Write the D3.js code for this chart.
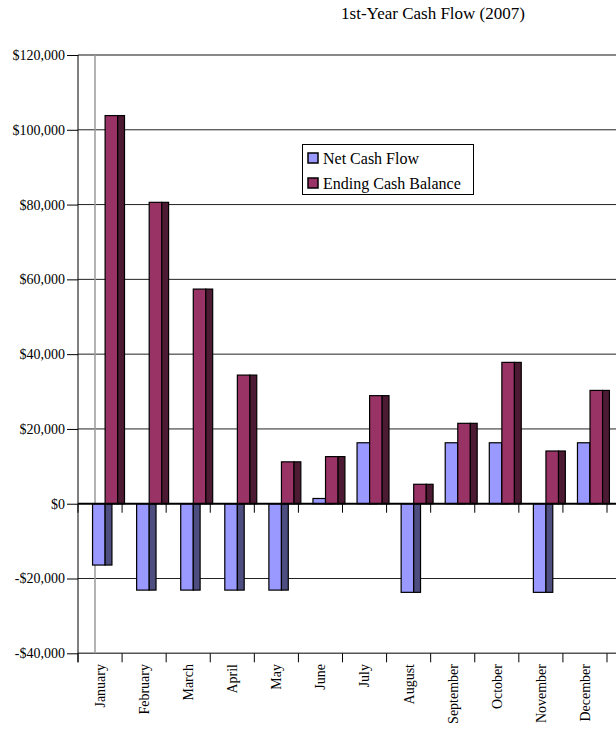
<!DOCTYPE html>
<html>
<head>
<meta charset="utf-8">
<script src="https://cdn.jsdelivr.net/npm/d3@7"></script>
<style>
html,body{margin:0;padding:0;background:#fff;}
svg{display:block;}
svg text{font-family:"Liberation Serif","Times New Roman",Times,serif !important;fill:#000;}
</style>
</head>
<body>
<svg id="chart" width="616" height="729"></svg>
<script>
const title = "1st-Year Cash Flow (2007)";
const months = ["January","February","March","April","May","June","July","August","September","October","November","December"];
const seriesNames = ["Net Cash Flow","Ending Cash Balance"];
const netCashFlow = [-16400,-23100,-23100,-23100,-23100,1400,16300,-23700,16300,16300,-23700,16300];
const endingCashBalance = [103800,80600,57400,34400,11200,12600,28900,5200,21500,37800,14100,30300];
const yTicks = [-40000,-20000,0,20000,40000,60000,80000,100000,120000];
const frontColors = ["#9999FF","#993366"];
const sideColors = ["#4D4D80","#4D1A33"];

const FONT = "'Liberation Serif','Times New Roman',Times,serif";
const svg = d3.select("#chart");
const W = 616;
const x = d3.scaleBand().domain(months).range([78, 607]).paddingInner(0).paddingOuter(0);
const y = d3.scaleLinear().domain([-40000,120000]).range([653.3, 55]);
const bw = x.bandwidth();
const depthOffset = bw * 0.33;
const frontW = bw * 0.285;
const sideW = bw * 0.155;
const xs = d3.scaleBand().domain(seriesNames).range([depthOffset, depthOffset + 2*frontW]);

// title
svg.append("text").attr("x", 433).attr("y", 19).attr("text-anchor","middle")
  .attr("font-family", FONT).style("font-size","17px").text(title);

// gridlines
const g = svg.append("g");
yTicks.forEach(t => {
  if (t === 0) return;
  const top = t === 120000, bottom = t === -40000;
  g.append("line").attr("x1", 78).attr("x2", W)
    .attr("y1", y(t)).attr("y2", y(t))
    .attr("stroke", top ? "#888" : (bottom ? "#555" : "#222"))
    .attr("stroke-width", top ? 2 : (bottom ? 1.5 : 1));
});

// back wall edge
g.append("line").attr("x1", 95).attr("x2", 95).attr("y1", y(120000)).attr("y2", y(-40000))
  .attr("stroke", "#9a9a9a").attr("stroke-width", 1.5);

// y axis
const yAxis = d3.axisLeft(y).tickValues(yTicks).tickSize(11).tickPadding(2)
  .tickFormat(d => (d < 0 ? "-$" : "$") + d3.format(",")(Math.abs(d)));
const ya = svg.append("g").attr("transform","translate(78,0)").call(yAxis)
  .attr("font-family", FONT).attr("font-size", 14);
ya.select(".domain").attr("stroke","#000").attr("d", `M0,${y(120000)}V${y(-40000)+9}`);
ya.selectAll(".tick line").attr("stroke","#000");
ya.selectAll(".tick text").attr("fill","#000");

// category ticks (bottom and at zero)
const bounds = d3.range(months.length + 1).map(i => 78 + i*bw);
[y(-40000), y(0)].forEach(yy => {
  svg.append("g").selectAll("line").data(bounds).join("line")
    .attr("x1", d => d).attr("x2", d => d).attr("y1", yy).attr("y2", yy + 9)
    .attr("stroke", "#000").attr("stroke-width", 1);
});

// bars
const data = months.map((m,i) => ({m, vals:[netCashFlow[i], endingCashBalance[i]]}));
const bars = svg.append("g");
seriesNames.forEach((s, si) => {
  const grp = bars.append("g");
  data.forEach(d => {
    const v = d.vals[si];
    const x0 = x(d.m) + xs(s);
    const yTop = y(Math.max(0, v)), yBot = y(Math.min(0, v));
    grp.append("rect").attr("x", x0).attr("y", yTop).attr("width", xs.bandwidth()).attr("height", yBot - yTop)
      .attr("fill", frontColors[si]).attr("stroke","#000").attr("stroke-width",1.2);
    grp.append("rect").attr("x", x0 + xs.bandwidth()).attr("y", yTop).attr("width", sideW).attr("height", yBot - yTop)
      .attr("fill", sideColors[si]).attr("stroke","#000").attr("stroke-width",1.2);
  });
});

// zero line
svg.append("line").attr("x1", 78).attr("x2", W).attr("y1", y(0)).attr("y2", y(0))
  .attr("stroke","#000").attr("stroke-width",2);

// x labels
svg.append("g").selectAll("text").data(months).join("text")
  .attr("transform", d => `translate(${x(d) + bw/2},664) rotate(-90)`)
  .attr("text-anchor","end").attr("dy","0.35em")
  .attr("font-family", FONT).style("font-size","14px").text(d => d);

// legend
const lg = svg.append("g");
lg.append("rect").attr("x", 302.5).attr("y", 144.5).attr("width", 171).attr("height", 50)
  .attr("fill","#fff").attr("stroke","#000").attr("stroke-width",1);
seriesNames.forEach((s, i) => {
  const yy = 153 + i*25;
  lg.append("rect").attr("x", 308).attr("y", yy).attr("width", 10).attr("height", 10)
    .attr("fill", frontColors[i]).attr("stroke","#000").attr("stroke-width",1.5);
  lg.append("text").attr("x", 323).attr("y", yy + 11)
    .attr("font-family", FONT).style("font-size","16px").text(s);
});
</script>
</body>
</html>
